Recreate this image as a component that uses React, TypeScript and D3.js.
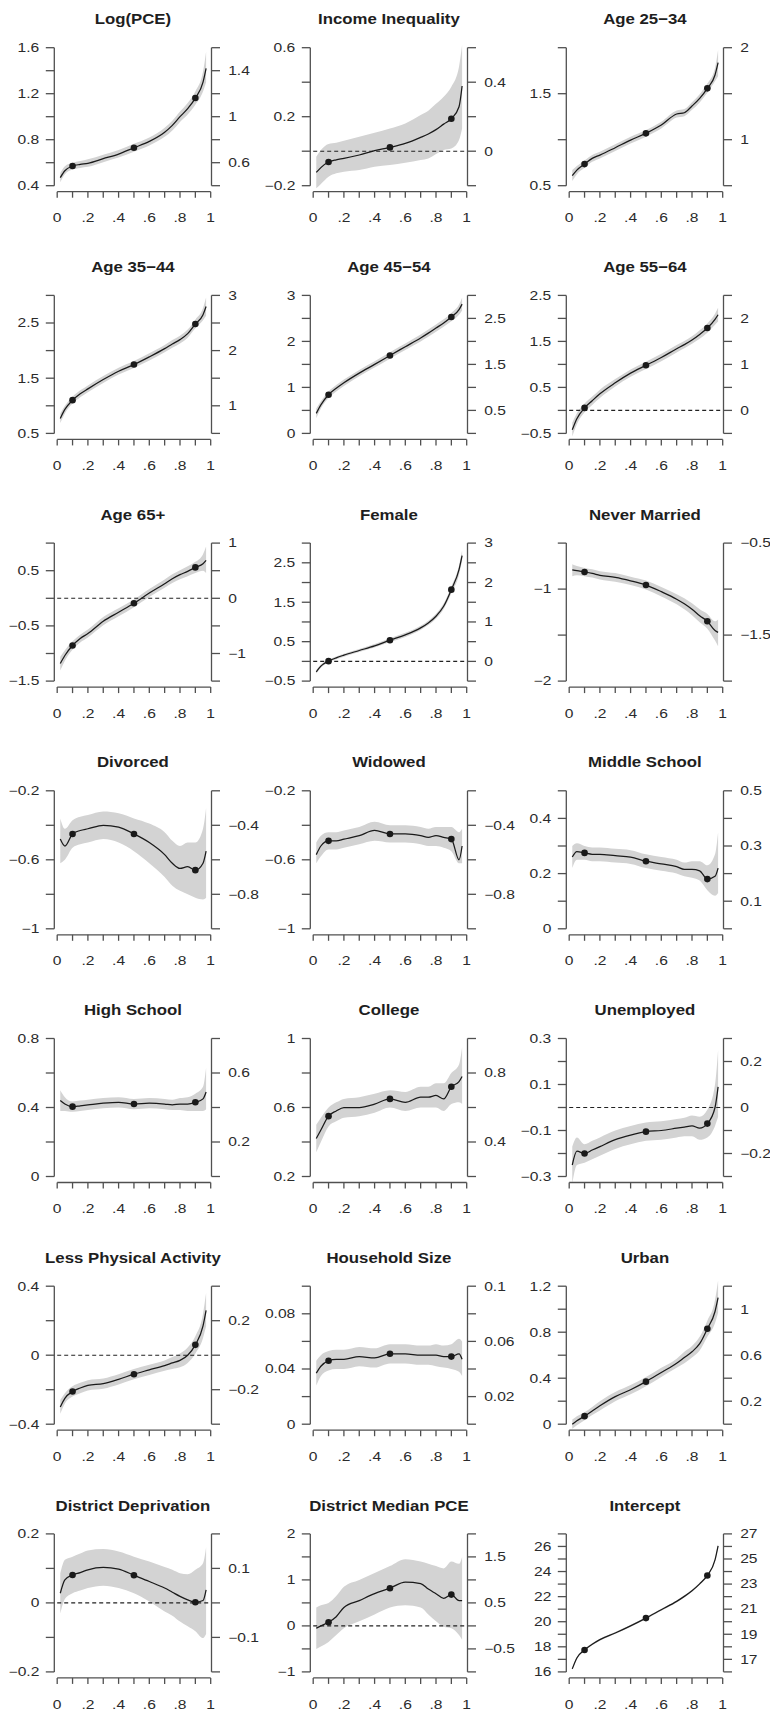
import React from 'react';
import * as d3 from 'd3';

const quantiles = [0.02, 0.05, 0.1, 0.15, 0.2, 0.3, 0.4, 0.5, 0.6, 0.7, 0.75, 0.8, 0.85, 0.9, 0.95, 0.97];
const dotQuantiles = [0.1, 0.5, 0.9];
const xTicks = [0, 0.1, 0.2, 0.3, 0.4, 0.5, 0.6, 0.7, 0.8, 0.9, 1];
const xTickLabels = ['0', '.2', '.4', '.6', '.8', '1'];

const titles = [
  'Log(PCE)', 'Income Inequality', 'Age 25\u221234',
  'Age 35\u221244', 'Age 45\u221254', 'Age 55\u221264',
  'Age 65+', 'Female', 'Never Married',
  'Divorced', 'Widowed', 'Middle School',
  'High School', 'College', 'Unemployed',
  'Less Physical Activity', 'Household Size', 'Urban',
  'District Deprivation', 'District Median PCE', 'Intercept',
];

const yTicks = [
  [0.4, 0.6, 0.8, 1, 1.2, 1.4, 1.6],
  [-0.2, 0, 0.2, 0.4, 0.6],
  [0.5, 1, 1.5, 2],
  [0.5, 1, 1.5, 2, 2.5, 3],
  [0, 0.5, 1, 1.5, 2, 2.5, 3],
  [-0.5, 0, 0.5, 1, 1.5, 2, 2.5],
  [-1.5, -1, -0.5, 0, 0.5, 1],
  [-0.5, 0, 0.5, 1, 1.5, 2, 2.5, 3],
  [-2, -1.5, -1, -0.5],
  [-1, -0.8, -0.6, -0.4, -0.2],
  [-1, -0.8, -0.6, -0.4, -0.2],
  [0, 0.1, 0.2, 0.3, 0.4, 0.5],
  [0, 0.2, 0.4, 0.6, 0.8],
  [0.2, 0.4, 0.6, 0.8, 1],
  [-0.3, -0.2, -0.1, 0, 0.1, 0.2, 0.3],
  [-0.4, -0.2, 0, 0.2, 0.4],
  [0, 0.02, 0.04, 0.06, 0.08, 0.1],
  [0, 0.2, 0.4, 0.6, 0.8, 1, 1.2],
  [-0.2, -0.1, 0, 0.1, 0.2],
  [-1, -0.5, 0, 0.5, 1, 1.5, 2],
  [16, 17, 18, 19, 20, 21, 22, 23, 24, 25, 26, 27],
];

const pceEst = [0.47, 0.53, 0.571, 0.585, 0.595, 0.635, 0.675, 0.73, 0.785, 0.865, 0.925, 1.0, 1.07, 1.162, 1.3, 1.42];
const pceLo = [0.43, 0.5, 0.54, 0.555, 0.565, 0.605, 0.645, 0.695, 0.75, 0.825, 0.88, 0.955, 1.02, 1.105, 1.22, 1.3];
const pceHi = [0.51, 0.57, 0.6, 0.615, 0.63, 0.67, 0.71, 0.765, 0.82, 0.905, 0.965, 1.045, 1.12, 1.22, 1.39, 1.565];

const ineqEst = [-0.123, -0.095, -0.063, -0.05, -0.042, -0.022, 0.003, 0.022, 0.045, 0.08, 0.1, 0.125, 0.157, 0.188, 0.258, 0.378];
const ineqLo = [-0.215, -0.19, -0.148, -0.128, -0.119, -0.109, -0.09, -0.08, -0.067, -0.051, -0.042, -0.016, 0.007, 0.016, 0.065, 0.132];
const ineqHi = [-0.032, 0.007, 0.042, 0.049, 0.061, 0.084, 0.107, 0.132, 0.161, 0.21, 0.235, 0.275, 0.316, 0.374, 0.49, 0.615];

const a2534Est = [0.609, 0.67, 0.735, 0.797, 0.833, 0.913, 0.996, 1.069, 1.159, 1.279, 1.293, 1.366, 1.449, 1.558, 1.703, 1.837];
const a2534Lo = [0.55, 0.625, 0.695, 0.76, 0.797, 0.877, 0.96, 1.033, 1.122, 1.24, 1.255, 1.325, 1.405, 1.51, 1.635, 1.69];
const a2534Hi = [0.67, 0.715, 0.775, 0.835, 0.87, 0.95, 1.032, 1.105, 1.196, 1.318, 1.333, 1.407, 1.495, 1.61, 1.78, 1.975];

const a3544Est = [0.771, 0.934, 1.102, 1.217, 1.307, 1.476, 1.627, 1.747, 1.886, 2.036, 2.12, 2.199, 2.307, 2.482, 2.651, 2.8];
const a3544Lo = [0.69, 0.86, 1.04, 1.155, 1.245, 1.415, 1.565, 1.685, 1.82, 1.97, 2.05, 2.13, 2.235, 2.405, 2.55, 2.63];
const a3544Hi = [0.86, 1.0, 1.165, 1.28, 1.37, 1.54, 1.69, 1.81, 1.95, 2.1, 2.19, 2.27, 2.38, 2.56, 2.77, 2.96];

const a4554Est = [0.435, 0.62, 0.84, 0.98, 1.1, 1.31, 1.5, 1.695, 1.885, 2.075, 2.18, 2.29, 2.4, 2.53, 2.69, 2.81];
const a4554Lo = [0.33, 0.54, 0.77, 0.91, 1.03, 1.24, 1.43, 1.625, 1.815, 2.0, 2.1, 2.21, 2.32, 2.44, 2.58, 2.67];
const a4554Hi = [0.54, 0.7, 0.91, 1.05, 1.17, 1.38, 1.57, 1.765, 1.955, 2.15, 2.26, 2.37, 2.48, 2.62, 2.8, 2.95];

const a5564Est = [-0.42, -0.18, 0.054, 0.21, 0.36, 0.6, 0.81, 0.98, 1.15, 1.34, 1.43, 1.53, 1.65, 1.79, 1.98, 2.08];
const a5564Lo = [-0.57, -0.3, -0.04, 0.12, 0.27, 0.52, 0.73, 0.9, 1.07, 1.26, 1.35, 1.45, 1.56, 1.69, 1.86, 1.93];
const a5564Hi = [-0.27, -0.06, 0.15, 0.3, 0.45, 0.68, 0.89, 1.06, 1.23, 1.42, 1.51, 1.61, 1.74, 1.89, 2.1, 2.23];

const a65Est = [-1.181, -1.036, -0.855, -0.729, -0.639, -0.416, -0.253, -0.09, 0.096, 0.265, 0.355, 0.428, 0.488, 0.56, 0.627, 0.687];
const a65Lo = [-1.31, -1.13, -0.93, -0.8, -0.71, -0.49, -0.325, -0.16, 0.025, 0.19, 0.275, 0.345, 0.4, 0.46, 0.5, 0.46];
const a65Hi = [-1.06, -0.94, -0.78, -0.66, -0.565, -0.34, -0.18, -0.02, 0.17, 0.34, 0.435, 0.51, 0.58, 0.66, 0.8, 0.94];

const femEst = [-0.264, -0.12, 0.006, 0.09, 0.158, 0.276, 0.394, 0.537, 0.672, 0.85, 0.976, 1.145, 1.398, 1.819, 2.325, 2.68];
const femLo = [-0.31, -0.16, -0.03, 0.055, 0.12, 0.235, 0.35, 0.49, 0.62, 0.795, 0.92, 1.08, 1.33, 1.73, 2.2, 2.55];
const femHi = [-0.22, -0.08, 0.04, 0.125, 0.196, 0.317, 0.44, 0.585, 0.725, 0.905, 1.032, 1.21, 1.466, 1.9, 2.43, 2.81];

const nevEst = [-0.79, -0.8, -0.814, -0.83, -0.85, -0.873, -0.91, -0.956, -1.028, -1.11, -1.16, -1.22, -1.29, -1.35, -1.45, -1.47];
const nevLo = [-0.86, -0.85, -0.86, -0.875, -0.895, -0.92, -0.955, -1.005, -1.08, -1.165, -1.22, -1.285, -1.36, -1.43, -1.56, -1.62];
const nevHi = [-0.73, -0.75, -0.77, -0.785, -0.805, -0.826, -0.865, -0.907, -0.976, -1.055, -1.1, -1.155, -1.22, -1.27, -1.35, -1.33];

const divEst = [-0.48, -0.52, -0.45, -0.43, -0.42, -0.4, -0.41, -0.45, -0.5, -0.57, -0.62, -0.65, -0.64, -0.66, -0.62, -0.55];
const divLo = [-0.62, -0.6, -0.53, -0.51, -0.5, -0.48, -0.5, -0.55, -0.62, -0.7, -0.75, -0.78, -0.8, -0.82, -0.83, -0.82];
const divHi = [-0.36, -0.42, -0.37, -0.35, -0.34, -0.32, -0.33, -0.36, -0.39, -0.44, -0.49, -0.52, -0.5, -0.5, -0.42, -0.3];

const widEst = [-0.57, -0.52, -0.49, -0.49, -0.48, -0.46, -0.43, -0.45, -0.45, -0.46, -0.47, -0.46, -0.47, -0.48, -0.6, -0.52];
const widLo = [-0.62, -0.58, -0.54, -0.54, -0.53, -0.51, -0.49, -0.5, -0.5, -0.51, -0.52, -0.52, -0.53, -0.55, -0.62, -0.62];
const widHi = [-0.5, -0.46, -0.44, -0.44, -0.43, -0.41, -0.38, -0.4, -0.4, -0.41, -0.42, -0.41, -0.41, -0.41, -0.44, -0.42];

const midEst = [0.26, 0.28, 0.275, 0.27, 0.27, 0.265, 0.26, 0.245, 0.235, 0.225, 0.215, 0.215, 0.21, 0.18, 0.19, 0.22];
const midLo = [0.22, 0.25, 0.25, 0.245, 0.245, 0.24, 0.235, 0.22, 0.21, 0.2, 0.19, 0.185, 0.175, 0.14, 0.12, 0.13];
const midHi = [0.3, 0.31, 0.3, 0.295, 0.295, 0.29, 0.285, 0.27, 0.26, 0.25, 0.24, 0.245, 0.245, 0.23, 0.27, 0.35];

const highEst = [0.44, 0.42, 0.405, 0.41, 0.415, 0.425, 0.43, 0.42, 0.425, 0.42, 0.415, 0.42, 0.42, 0.43, 0.45, 0.49];
const highLo = [0.38, 0.38, 0.375, 0.38, 0.385, 0.395, 0.4, 0.39, 0.395, 0.39, 0.385, 0.385, 0.38, 0.38, 0.38, 0.39];
const highHi = [0.5, 0.46, 0.435, 0.44, 0.445, 0.455, 0.46, 0.45, 0.455, 0.45, 0.445, 0.455, 0.46, 0.48, 0.52, 0.63];

const colEst = [0.42, 0.47, 0.55, 0.58, 0.6, 0.6, 0.62, 0.65, 0.63, 0.66, 0.66, 0.67, 0.65, 0.72, 0.75, 0.78];
const colLo = [0.34, 0.4, 0.49, 0.52, 0.54, 0.55, 0.57, 0.6, 0.58, 0.6, 0.6, 0.6, 0.58, 0.62, 0.63, 0.62];
const colHi = [0.5, 0.54, 0.6, 0.63, 0.65, 0.66, 0.68, 0.7, 0.69, 0.72, 0.72, 0.74, 0.74, 0.8, 0.85, 0.95];

const unempEst = [-0.25, -0.19, -0.2, -0.185, -0.17, -0.14, -0.12, -0.105, -0.1, -0.09, -0.085, -0.08, -0.09, -0.07, 0.0, 0.09];
const unempLo = [-0.33, -0.25, -0.24, -0.225, -0.21, -0.18, -0.16, -0.145, -0.14, -0.13, -0.125, -0.125, -0.14, -0.13, -0.08, -0.04];
const unempHi = [-0.17, -0.13, -0.16, -0.145, -0.13, -0.1, -0.08, -0.065, -0.06, -0.05, -0.045, -0.035, -0.04, -0.01, 0.1, 0.25];

const lpaEst = [-0.3, -0.25, -0.21, -0.19, -0.175, -0.165, -0.14, -0.11, -0.085, -0.06, -0.045, -0.03, 0.0, 0.06, 0.17, 0.26];
const lpaLo = [-0.34, -0.28, -0.24, -0.22, -0.205, -0.195, -0.17, -0.14, -0.115, -0.09, -0.08, -0.07, -0.045, 0.01, 0.1, 0.17];
const lpaHi = [-0.26, -0.22, -0.18, -0.16, -0.145, -0.135, -0.11, -0.08, -0.055, -0.03, -0.01, 0.01, 0.045, 0.11, 0.24, 0.36];

const hhEst = [0.037, 0.042, 0.046, 0.047, 0.047, 0.049, 0.048, 0.051, 0.051, 0.05, 0.05, 0.05, 0.049, 0.049, 0.051, 0.047];
const hhLo = [0.028, 0.035, 0.039, 0.04, 0.04, 0.042, 0.041, 0.044, 0.044, 0.043, 0.043, 0.042, 0.041, 0.04, 0.038, 0.035];
const hhHi = [0.046, 0.05, 0.053, 0.054, 0.054, 0.056, 0.055, 0.058, 0.058, 0.057, 0.057, 0.058, 0.057, 0.058, 0.062, 0.06];

const urbEst = [0.0, 0.03, 0.07, 0.115, 0.16, 0.24, 0.3, 0.37, 0.45, 0.53, 0.58, 0.63, 0.7, 0.83, 0.98, 1.1];
const urbLo = [-0.04, -0.01, 0.035, 0.08, 0.12, 0.2, 0.26, 0.33, 0.41, 0.49, 0.53, 0.58, 0.64, 0.76, 0.88, 0.97];
const urbHi = [0.04, 0.07, 0.105, 0.15, 0.2, 0.28, 0.34, 0.41, 0.49, 0.57, 0.63, 0.68, 0.76, 0.9, 1.08, 1.25];

const depEst = [0.028, 0.067, 0.081, 0.088, 0.096, 0.103, 0.098, 0.08, 0.062, 0.043, 0.031, 0.019, 0.009, 0.002, 0.007, 0.038];
const depLo = [-0.031, 0.011, 0.028, 0.036, 0.043, 0.05, 0.043, 0.028, 0.004, -0.025, -0.037, -0.054, -0.068, -0.082, -0.102, -0.09];
const depHi = [0.086, 0.125, 0.134, 0.143, 0.152, 0.156, 0.149, 0.134, 0.12, 0.104, 0.096, 0.086, 0.083, 0.096, 0.115, 0.161];

const dmpEst = [-0.05, 0.0, 0.08, 0.2, 0.4, 0.55, 0.7, 0.82, 0.95, 0.92, 0.8, 0.7, 0.6, 0.68, 0.55, 0.55];
const dmpLo = [-0.5, -0.45, -0.35, -0.2, -0.05, 0.1, 0.25, 0.4, 0.45, 0.4, 0.25, 0.1, -0.02, -0.05, -0.2, -0.3];
const dmpHi = [0.4, 0.45, 0.5, 0.65, 0.85, 1.0, 1.15, 1.3, 1.45, 1.4, 1.35, 1.3, 1.25, 1.4, 1.35, 1.5];

const intEst = [16.24, 17.11, 17.75, 18.2, 18.57, 19.1, 19.67, 20.29, 20.96, 21.62, 22.02, 22.47, 23.02, 23.69, 24.93, 26.05];
const intLo = [16.16, 17.03, 17.67, 18.12, 18.49, 19.02, 19.59, 20.21, 20.88, 21.54, 21.94, 22.39, 22.94, 23.61, 24.83, 25.9];
const intHi = [16.32, 17.19, 17.83, 18.28, 18.65, 19.18, 19.75, 20.37, 21.04, 21.7, 22.1, 22.55, 23.1, 23.77, 25.03, 26.2];

const estimates = [pceEst, ineqEst, a2534Est, a3544Est, a4554Est, a5564Est, a65Est, femEst, nevEst, divEst, widEst, midEst, highEst, colEst, unempEst, lpaEst, hhEst, urbEst, depEst, dmpEst, intEst];
const lowers = [pceLo, ineqLo, a2534Lo, a3544Lo, a4554Lo, a5564Lo, a65Lo, femLo, nevLo, divLo, widLo, midLo, highLo, colLo, unempLo, lpaLo, hhLo, urbLo, depLo, dmpLo, intLo];
const uppers = [pceHi, ineqHi, a2534Hi, a3544Hi, a4554Hi, a5564Hi, a65Hi, femHi, nevHi, divHi, widHi, midHi, highHi, colHi, unempHi, lpaHi, hhHi, urbHi, depHi, dmpHi, intHi];

// layout
const W = 770, H = 1714;
const colPitch = 256, rowPitch = 247.7;
const axisTop = 47.7, axisH = 138;
const leftAxisX = 54.3, rightAxisX = 211.5, xStart = 57.2, xEnd = 210.7;
const axisColor = '#505050', textColor = '#2b2b2b';
const labelScale = 1.3, titleScale = 1.12;
const fmt = d3.format('~g');

const Panel = ({ i }: { i: number }) => {
  const col = i % 3, row = Math.floor(i / 3);
  const ox = col * colPitch;
  const top = axisTop + row * rowPitch, bottom = top + axisH;
  const ticks = yTicks[i];
  const x = d3.scaleLinear().domain([0, 1]).range([ox + xStart, ox + xEnd]);
  const y = d3.scaleLinear().domain([ticks[0], ticks[ticks.length - 1]]).range([bottom, top]);
  const rows = quantiles.map((q, k) => ({ q, est: estimates[i][k], lo: lowers[i][k], hi: uppers[i][k] }));

  const band = d3.area<any>().x(d => x(d.q)).y0(d => y(d.lo)).y1(d => y(d.hi)).curve(d3.curveMonotoneX)(rows);
  const line = d3.line<any>().x(d => x(d.q)).y(d => y(d.est)).curve(d3.curveMonotoneX)(rows);
  const lAx = ox + leftAxisX, rAx = ox + rightAxisX;
  const xAxisY = bottom + 6;
  const showZero = ticks[0] < 0 && ticks[ticks.length - 1] > 0;

  return (
    <g>
      <g transform={`translate(${(lAx + rAx) / 2},${top - 23.4}) scale(${titleScale},1)`}>
        <text textAnchor="middle" fontSize={15} fontWeight="bold" fill="#1e1e1e"
          fontFamily="'Liberation Sans', Arial, Helvetica, sans-serif">{titles[i]}</text>
      </g>
      <path d={band ?? ''} fill="#d3d3d3" />
      {showZero && (
        <line x1={x(0)} x2={x(1)} y1={y(0)} y2={y(0)} stroke="#222" strokeWidth={1.1} strokeDasharray="4,3" />
      )}
      <path d={line ?? ''} fill="none" stroke="#1a1a1a" strokeWidth={1.25} />
      {dotQuantiles.map(q => {
        const k = quantiles.indexOf(q);
        return <circle key={q} cx={x(q)} cy={y(estimates[i][k])} r={3.3} fill="#1a1a1a" />;
      })}
      {/* left axis */}
      <line x1={lAx} x2={lAx} y1={top} y2={bottom} stroke={axisColor} strokeWidth={1.3} />
      {/* right axis */}
      <line x1={rAx} x2={rAx} y1={top} y2={bottom} stroke={axisColor} strokeWidth={1.3} />
      {ticks.map((t, k) => (
        <g key={k}>
          <line x1={lAx - 8.5} x2={lAx} y1={y(t)} y2={y(t)} stroke={axisColor} strokeWidth={1.3} />
          <line x1={rAx} x2={rAx + 8.5} y1={y(t)} y2={y(t)} stroke={axisColor} strokeWidth={1.3} />
          {k % 2 === 0 ? (
            <g transform={`translate(${lAx - 15},${y(t) + 4.3}) scale(${labelScale},1)`}>
              <text textAnchor="end" fontSize={12} fill={textColor}
                fontFamily="'Liberation Sans', Arial, Helvetica, sans-serif">{fmt(t)}</text>
            </g>
          ) : (
            <g transform={`translate(${rAx + 16.7},${y(t) + 4.3}) scale(${labelScale},1)`}>
              <text textAnchor="start" fontSize={12} fill={textColor}
                fontFamily="'Liberation Sans', Arial, Helvetica, sans-serif">{fmt(t)}</text>
            </g>
          )}
        </g>
      ))}
      {/* bottom axis */}
      <line x1={x(0)} x2={x(1)} y1={xAxisY} y2={xAxisY} stroke={axisColor} strokeWidth={1.3} />
      {xTicks.map(t => (
        <line key={t} x1={x(t)} x2={x(t)} y1={xAxisY} y2={xAxisY + 6} stroke={axisColor} strokeWidth={1.3} />
      ))}
      {xTickLabels.map((lab, k) => (
        <g key={lab} transform={`translate(${x(k * 0.2)},${bottom + 36.6}) scale(${labelScale},1)`}>
          <text textAnchor="middle" fontSize={12} fill={textColor}
            fontFamily="'Liberation Sans', Arial, Helvetica, sans-serif">{lab}</text>
        </g>
      ))}
    </g>
  );
};

export default function App() {
  return (
    <div style={{ position: 'absolute', left: 0, top: 0 }}>
      <svg width={W} height={H} style={{ display: 'block', background: '#fff' }}>
        {titles.map((_, i) => <Panel key={i} i={i} />)}
      </svg>
    </div>
  );
}
